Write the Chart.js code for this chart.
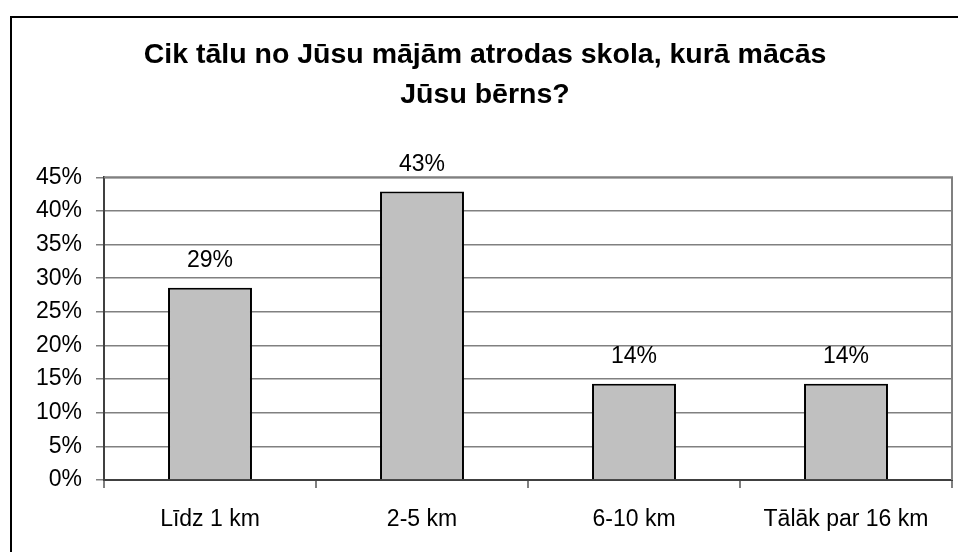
<!DOCTYPE html>
<html>
<head>
<meta charset="utf-8">
<script src="https://cdn.jsdelivr.net/npm/chart.js@4/dist/chart.umd.min.js"></script>
<style>
html,body{margin:0;padding:0;background:#fff;}
#wrap{width:958px;height:552px;position:relative;}
</style>
</head>
<body>
<div id="wrap"><canvas id="c" width="958" height="552"></canvas></div>
<script>
const titleLines = ["Cik tālu no Jūsu mājām atrodas skola, kurā mācās", "Jūsu bērns?"];
const categories = ["Līdz 1 km", "2-5 km", "6-10 km", "Tālāk par 16 km"];
const values = [28.6, 42.9, 14.3, 14.3];
const yTicks = [0, 5, 10, 15, 20, 25, 30, 35, 40, 45];

const FONT = "'Liberation Sans', Arial, sans-serif";

const framePlugin = {
  id: 'frame',
  beforeDraw(chart) {
    const ctx = chart.ctx;
    ctx.save();
    ctx.fillStyle = '#fff';
    ctx.fillRect(0, 0, chart.width, chart.height);
    ctx.strokeStyle = '#000';
    ctx.lineWidth = 2;
    ctx.strokeRect(11, 17, chart.width + 10, chart.height + 10);
    ctx.restore();
  },
  afterDraw(chart) {
    const ctx = chart.ctx;
    const a = chart.chartArea;
    ctx.save();
    ctx.strokeStyle = '#808080';
    ctx.lineWidth = 2;
    ctx.beginPath();
    ctx.moveTo(a.left, a.top);
    ctx.lineTo(a.right, a.top);
    ctx.lineTo(a.right, a.bottom);
    ctx.stroke();
    // data labels
    const meta = chart.getDatasetMeta(0);
    ctx.fillStyle = '#000';
    ctx.font = "23px " + FONT;
    ctx.textAlign = 'center';
    ctx.textBaseline = 'middle';
    meta.data.forEach((bar, i) => {
      ctx.fillText(Math.round(values[i]) + '%', bar.x, bar.y - 27);
    });
    ctx.restore();
  }
};

new Chart(document.getElementById('c'), {
  type: 'bar',
  data: {
    labels: categories,
    datasets: [{
      data: values,
      backgroundColor: '#C0C0C0',
      borderColor: '#000',
      borderWidth: 2,
      categoryPercentage: 1,
      barPercentage: 0.396
    }]
  },
  options: {
    responsive: false,
    animation: false,
    layout: { padding: { left: 18, right: 6, top: 0, bottom: 0 } },
    plugins: {
      legend: { display: false },
      tooltip: { enabled: false },
      title: {
        display: true,
        text: titleLines,
        color: '#000',
        font: { family: FONT, size: 28.5, weight: 'bold', lineHeight: 1.41 },
        padding: { top: 35, bottom: 62 }
      }
    },
    scales: {
      x: {
        grid: { drawOnChartArea: false, drawTicks: true, tickLength: 8, color: '#808080', lineWidth: 2, offset: true },
        border: { color: '#404040', width: 2 },
        ticks: { color: '#000', font: { family: FONT, size: 23 }, padding: 18, maxRotation: 0 },
        afterFit(s) { s.height = 72; }
      },
      y: {
        min: 0, max: 45,
        afterBuildTicks(s) { s.ticks = yTicks.map(v => ({ value: v })); },
        grid: { color: '#808080', lineWidth: 1.5, drawTicks: true, tickLength: 8, tickColor: '#808080', tickWidth: 1.5 },
        border: { color: '#404040', width: 2 },
        ticks: { color: '#000', font: { family: FONT, size: 23 }, padding: 14, callback: v => v + '%' },
        afterFit(s) { s.width = 86; }
      }
    }
  },
  plugins: [framePlugin]
});
</script>
</body>
</html>
